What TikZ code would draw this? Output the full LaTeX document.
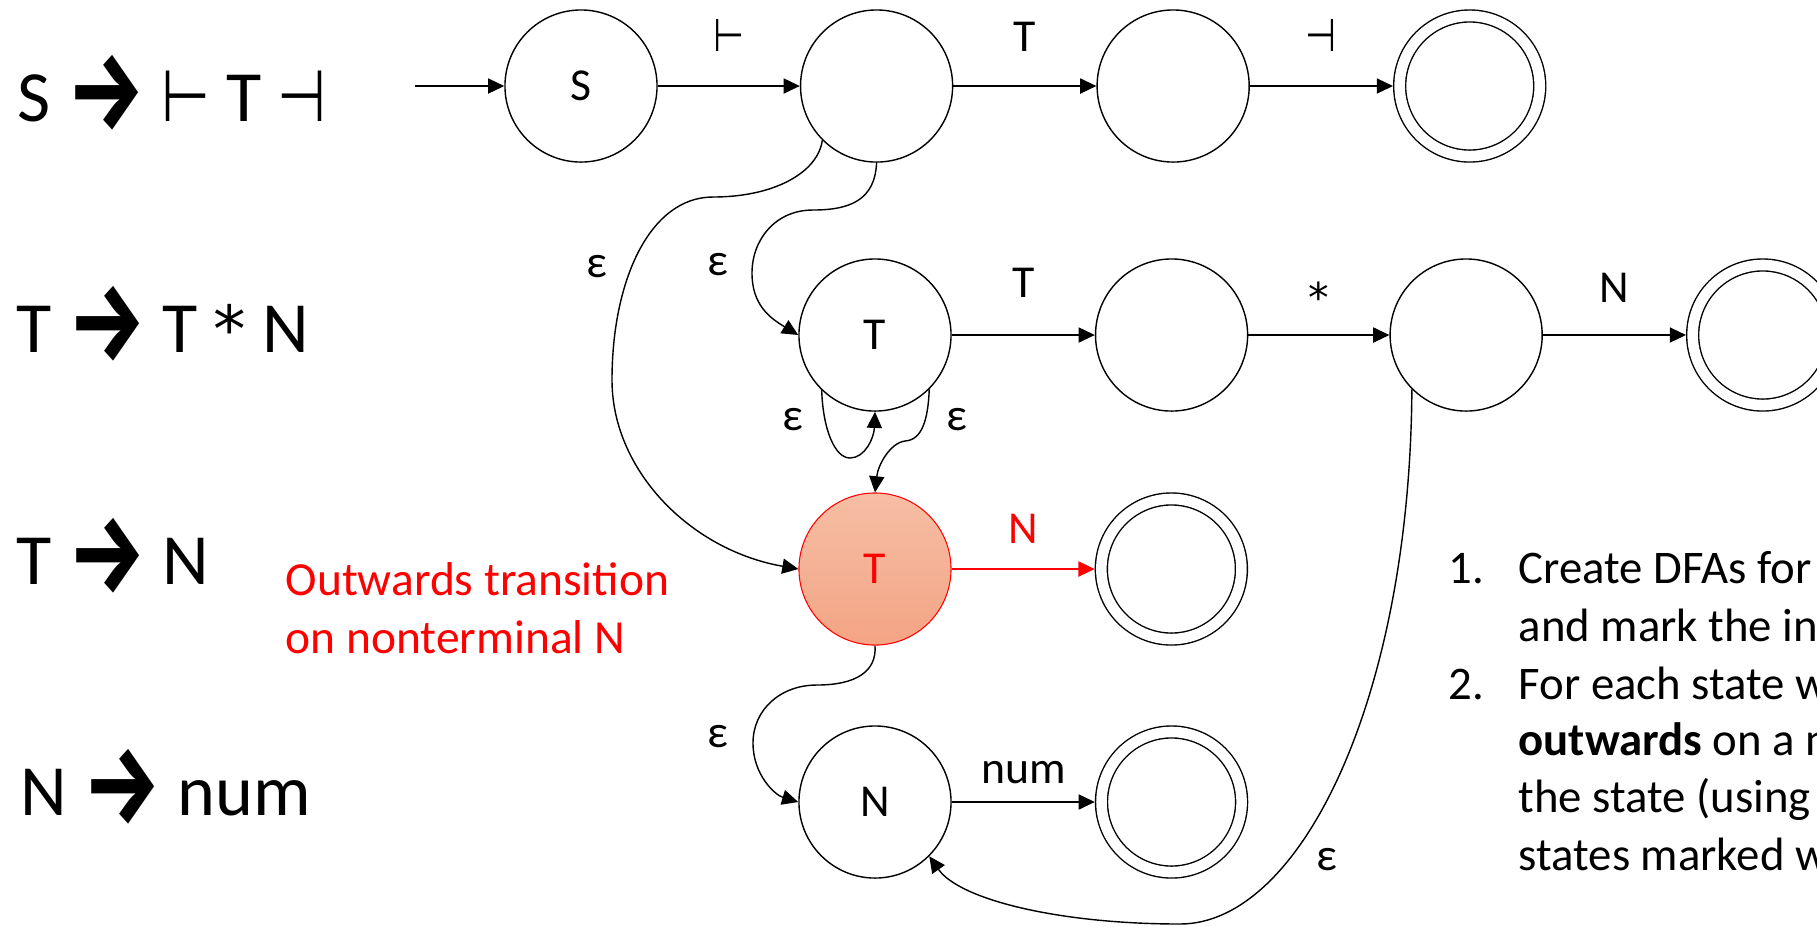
\documentclass[tikz,border=0pt]{standalone}
\usepackage{fontspec}
\setmainfont{Carlito}
\newfontfamily\symfont{DejaVu Sans}
\newfontfamily\arrowfont{Fira Sans}
\usetikzlibrary{arrows.meta, positioning}

\definecolor{hotred}{RGB}{255,0,0}
\definecolor{salmontop}{RGB}{245,190,165}
\definecolor{salmonbot}{RGB}{244,164,132}

\newcommand{\prodto}{\raisebox{-0.12em}{\scalebox{1.2}[1.55]{\arrowfont\bfseries →}}}
\newcommand{\lturn}{\scalebox{0.78}[1]{\symfont ⊢}}
\newcommand{\rturn}{\scalebox{0.78}[1]{\symfont ⊣}}
\newcommand{\timesast}{\scalebox{0.9}{\symfont *}}

\tikzset{
  state/.style={circle, draw, line width=0.4pt, minimum size=1.52cm, inner sep=0pt, font=\fontsize{13}{15}\selectfont},
  accept/.style={state, minimum size=1.40cm, double, double distance=3pt, outer sep=1.9pt},
  hot/.style={state, draw=hotred, line width=0.3pt, top color=salmontop, bottom color=salmonbot, text=hotred},
  trans/.style={line width=0.4pt, -{Triangle[length=4.6pt, width=4.3pt]}},
  lbl/.style={anchor=base, inner sep=0pt, font=\fontsize{13}{15}\selectfont},
  eps/.style={inner sep=0pt, font=\fontsize{13}{15}\selectfont},
  gram/.style={anchor=base west, inner sep=0pt, font=\fontsize{20.5}{24}\selectfont},
  note/.style={anchor=base west, inner sep=0pt, text=hotred, font=\fontsize{13.5}{16}\selectfont},
  steps/.style={anchor=base west, inner sep=0pt, font=\fontsize{13.3}{16}\selectfont},
}

\begin{document}
\begin{tikzpicture}[x=0.01cm, y=-0.01cm]
  \useasboundingbox (0,0) rectangle (1817,926);

  % Grammar
  \node[gram] (g1) at (17,121) {S \prodto{} \lturn{} T \rturn{}};
  \node[gram] (g2) at (16,352) {T \prodto{} T \timesast{} N};
  \node[gram] (g3) at (16,584) {T \prodto{} N};
  \node[gram] (g4) at (20,815) {N \prodto{} num};

  % S -> |- T -|
  \coordinate (init) at (415,86);
  \node[state] (s0) at (581,86) {S};
  \node[state, right=1.42cm of s0] (s1) {};
  \node[state, right=1.43cm of s1] (s2) {};
  \node[accept, right=1.43cm of s2] (s3) {};
  \draw[trans] (init) -- (s0);
  \draw[trans] (s0) -- node[lbl, yshift=0.34cm] {\lturn} (s1);
  \draw[trans] (s1) -- node[lbl, yshift=0.34cm] {T} (s2);
  \draw[trans] (s2) -- node[lbl, yshift=0.34cm] {\rturn} (s3);

  % T -> T * N
  \node[state] (t0) at (875,335) {T};
  \node[state, right=1.43cm of t0] (t1) {};
  \node[state, right=1.41cm of t1] (t2) {};
  \node[accept, right=1.43cm of t2] (t3) {};
  \draw[trans] (t0) -- node[lbl, yshift=0.37cm] {T} (t1);
  \draw[trans] (t1) -- node[lbl, yshift=0.23cm] {\timesast} (t2);
  \draw[trans] (t2) -- node[lbl, yshift=0.32cm] {N} (t3);

  % T -> N
  \node[hot] (u0) at (875,569) {T};
  \node[accept, right=1.43cm of u0] (u1) {};
  \draw[trans, hotred] (u0) -- node[lbl, text=hotred, yshift=0.26cm] {N} (u1);

  % N -> num
  \node[state] (n0) at (875,802) {N};
  \node[accept, right=1.43cm of n0] (n1) {};
  \draw[trans] (n0) -- node[lbl, yshift=0.19cm] {num} (n1);

  % epsilon links
  \draw[trans] (s1.225) .. controls (818,172) and (775,197) .. (713,197)
    .. controls (650,197) and (612,280) .. (612,380)
    .. controls (612,470) and (690,550) .. (u0.west);
  \node[eps] (e1) at (597,267) {ε};
  \draw[trans] (s1.south) .. controls (875,200) and (850,210) .. (813,210)
    .. controls (775,210) and (752,240) .. (752,273)
    .. controls (752,305) and (770,318) .. (t0.west);
  \node[eps] (e2) at (718,265) {ε};
  \draw[trans] (t0.226) .. controls (823,430) and (835,458) .. (850,458)
    .. controls (865,458) and (874,438) .. (t0.south);
  \node[eps] (e3) at (793,420) {ε};
  \draw[trans] (t0.315) .. controls (928,420) and (922,440) .. (905,441)
    .. controls (890,443) and (878,465) .. (u0.north);
  \node[eps] (e4) at (957,420) {ε};
  \draw[trans] (u0.south) .. controls (877,672) and (855,685) .. (817,685)
    .. controls (780,685) and (753,710) .. (753,743)
    .. controls (753,775) and (775,795) .. (n0.west);
  \node[eps] (e5) at (718,737) {ε};
  \draw[trans] (t2.225) .. controls (1410,700) and (1300,924) .. (1180,924)
    .. controls (1060,924) and (960,900) .. (n0.315);
  \node[eps] (e6) at (1327,860) {ε};

  % Notes
  \node[note] (note1) at (285,595) {Outwards transition};
  \node[note] (note2) at (285,653) {on nonterminal N};

  \node[steps] (k1) at (1448,583) {1.};
  \node[steps] (r1) at (1518,583) {Create DFAs for each production};
  \node[steps] (r2) at (1518,641) {and mark the initial states};
  \node[steps] (k2) at (1448,699) {2.};
  \node[steps] (r3) at (1518,699) {For each state with a transition};
  \node[steps] (r4) at (1518,755) {\textbf{outwards} on a nonterminal};
  \node[steps] (r5) at (1518,812) {the state (using ε)};
  \node[steps] (r6) at (1518,870) {states marked with it};
\end{tikzpicture}
\end{document}
